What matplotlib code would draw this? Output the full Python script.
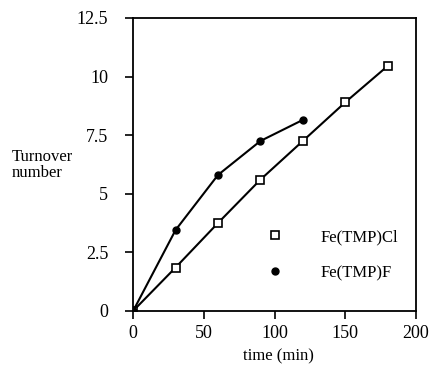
import matplotlib
matplotlib.use('Agg')
import matplotlib.pyplot as plt

plt.rcParams['font.family'] = 'Liberation Serif'

# Data
t_cl = [0, 30, 60, 90, 120, 150, 180]
ton_cl = [0, 1.85, 3.75, 5.6, 7.25, 8.9, 10.45]
t_f = [0, 30, 60, 90, 120]
ton_f = [0, 3.45, 5.8, 7.25, 8.15]

fig = plt.figure(figsize=(4.31, 3.67), dpi=100)
ax = fig.add_axes([0.309, 0.153, 0.656, 0.798])

ax.plot(t_cl, ton_cl, '-', color='black', lw=1.5)
ax.plot(t_cl, ton_cl, 's', color='black', mfc='white', mew=1.2, ms=5.5,
        label='Fe(TMP)Cl')
ax.plot(t_f, ton_f, '-', color='black', lw=1.5)
ax.plot(t_f, ton_f, 'o', color='black', ms=5, label='Fe(TMP)F')

ax.set_xlim(0, 200)
ax.set_ylim(0, 12.5)
ax.set_xticks([0, 50, 100, 150, 200])
ax.set_yticks([0, 2.5, 5, 7.5, 10, 12.5])
ax.set_yticklabels(['0', '2.5', '5', '7.5', '10', '12.5'])
ax.tick_params(direction='out', length=6, width=1.2, labelsize=13)
ax.tick_params(axis='x', pad=4)
ax.tick_params(axis='y', pad=12)
for s in ax.spines.values():
    s.set_linewidth(1.3)

fig.text(0.645, 0.03, 'time (min)', fontsize=12, ha='center', va='center')
fig.text(0.028, 0.55, 'Turnover\nnumber', fontsize=12, ha='left', va='center',
         linespacing=1.0)

ax.legend(loc='lower right', bbox_to_anchor=(0.99, 0.05), frameon=False,
          fontsize=12, handlelength=1.5, labelspacing=1.2, handletextpad=2.0)

fig.savefig('out.png', dpi=100)
